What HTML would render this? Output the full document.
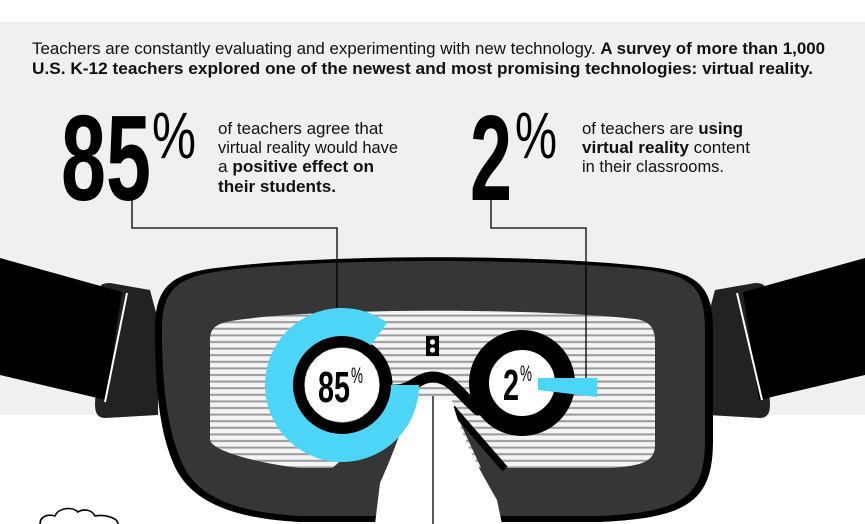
<!DOCTYPE html>
<html><head><meta charset="utf-8"><style>
html,body{margin:0;padding:0;background:#fff;}
svg{display:block;}
text{font-family:"Liberation Sans Narrow","Liberation Sans",sans-serif;}
</style></head><body>
<svg id="chart" width="865" height="524" viewBox="0 0 865 524">
<rect x="0" y="0" width="865" height="524" fill="#ffffff"/>
<rect x="0" y="22" width="865" height="393" fill="#f0f0f0"/>
<defs>
<pattern id="stripes" width="10" height="6.6" patternUnits="userSpaceOnUse">
<rect width="10" height="6.6" fill="#f4f4f4"/><rect y="4.4" width="10" height="2" fill="#9a9a9a"/>
</pattern>
</defs>

<g>
<text x="32" y="54" font-size="16.5" fill="#111" textLength="793" lengthAdjust="spacingAndGlyphs">Teachers are constantly evaluating and experimenting with new technology. <tspan font-weight="bold">A survey of more than 1,000</tspan></text>
<text x="32" y="74" font-size="16.5" font-weight="bold" fill="#111" textLength="781" lengthAdjust="spacingAndGlyphs">U.S. K-12 teachers explored one of the newest and most promising technologies: virtual reality.</text>
</g>

<g>
<text x="61" y="200" font-size="122" font-weight="bold" fill="#000" textLength="90" lengthAdjust="spacingAndGlyphs">85</text>
<text x="152" y="158" font-size="66" fill="#000" textLength="44" lengthAdjust="spacingAndGlyphs">%</text>
<g font-size="17" fill="#111">
<text x="218" y="134" textLength="165" lengthAdjust="spacingAndGlyphs">of teachers agree that</text>
<text x="218" y="153" textLength="180" lengthAdjust="spacingAndGlyphs">virtual reality would have</text>
<text x="218" y="172" textLength="156" lengthAdjust="spacingAndGlyphs">a <tspan font-weight="bold">positive effect on</tspan></text>
<text x="218" y="192" font-weight="bold" textLength="118" lengthAdjust="spacingAndGlyphs">their students.</text>
</g>
</g>

<g>
<text x="470" y="200" font-size="122" font-weight="bold" fill="#000" textLength="42" lengthAdjust="spacingAndGlyphs">2</text>
<text x="515" y="158" font-size="66" fill="#000" textLength="42" lengthAdjust="spacingAndGlyphs">%</text>
<g font-size="17" fill="#111">
<text x="582" y="134" textLength="161" lengthAdjust="spacingAndGlyphs">of teachers are <tspan font-weight="bold">using</tspan></text>
<text x="582" y="153" textLength="168" lengthAdjust="spacingAndGlyphs"><tspan font-weight="bold">virtual reality</tspan> content</text>
<text x="582" y="172" textLength="142" lengthAdjust="spacingAndGlyphs">in their classrooms.</text>
</g>
</g>

<g>
<path d="M100,288 Q100,283 110,283 L150,290 L158,320 L158,415 L105,418 Q95,418 95,405 Z" fill="#222"/>
<polygon points="0,258 122,292 106,400 0,375" fill="#000"/>
<line x1="127" y1="293" x2="105" y2="402" stroke="#fff" stroke-width="2"/>
</g>
<g>
<path d="M765,288 Q765,283 755,283 L715,290 L707,320 L707,415 L760,418 Q770,418 770,405 Z" fill="#222"/>
<polygon points="865,258 743,292 759,400 865,375" fill="#000"/>
<line x1="737" y1="293" x2="762" y2="400" stroke="#fff" stroke-width="2"/>
</g>

<path d="M155,330 C155,285 172,272 225,267 C330,254 540,254 650,267 C700,273 713,288 713,330 L713,440 C713,500 690,518 600,522 L300,522 C220,518 185,495 172,460 C160,430 155,390 155,330 Z" fill="#000"/>
<path d="M162,330 C162,288 178,276 228,270 C330,258 540,258 648,270 C694,276 705,290 705,330 L705,440 C705,496 684,512 600,516 L300,516 C226,512 192,492 180,458 C168,428 162,390 162,330 Z" fill="#363636"/>

<path d="M210,340 C210,326 218,322 245,319 C330,308 540,308 635,319 C650,321 655,328 655,342 L655,445 C655,460 645,466 610,468 L300,468 C250,462 212,450 210,440 Z" fill="url(#stripes)"/>

<path d="M411,400 L330,470 L402,470 Z" fill="#363636"/>
<path d="M452,405 L505,470 L482,470 Z" fill="#363636"/>
<path d="M452,408 L505,469" stroke="#000" stroke-width="7" fill="none"/>
<path d="M411,400 L452,400 C462,440 480,470 497,500 L502,524 L375,524 L380,483 C395,450 405,420 411,400 Z" fill="#ffffff"/>
<path d="M395,390 C412,390 418,377 433,377 C450,377 458,392 478,410" stroke="#000" stroke-width="11" fill="none" stroke-linecap="round"/>

<g>
<rect x="426" y="336" width="13" height="20" fill="#000"/>
<circle cx="432.5" cy="342" r="2.6" fill="#fff"/><circle cx="432.5" cy="350" r="2.6" fill="#fff"/>
</g>

<g stroke="#000" stroke-width="1.3" fill="none">
<polyline points="132,200 132,228 337,228 337,310"/>
<polyline points="491,200 491,228 586,228 586,383"/>
<line x1="433" y1="396" x2="433" y2="524"/>
</g>

<g id="marks"></g>

<path d="M40,524 C40,516 48,514 55,516 C58,508 72,506 78,512 C84,508 92,510 95,516 C105,514 118,518 118,524" stroke="#000" stroke-width="1.6" fill="#fff"/>
</svg>
<script>
const categories = ["positive-effect", "using-vr"];
const seriesValues = [85, 2];
const labels = ["85", "2"];

const NS = "http://www.w3.org/2000/svg";
const g = document.getElementById("marks");
function pctToAngle(p){ return p / 100 * 2 * Math.PI; }
function polar(cx, cy, r, a){ return [cx + r * Math.sin(a), cy - r * Math.cos(a)]; }
function mk(tag, attrs){ const e = document.createElementNS(NS, tag); for (const k in attrs) e.setAttribute(k, attrs[k]); return e; }

(function(){
  const cx = 342, cy = 385, ro = 77, ri = 49;
  const start = Math.PI / 2;
  const end = start + pctToAngle(seriesValues[0]);
  const large = (end - start) > Math.PI ? 1 : 0;
  const [x1,y1] = polar(cx,cy,ro,start), [x2,y2] = polar(cx,cy,ro,end);
  const [x3,y3] = polar(cx,cy,ri,end), [x4,y4] = polar(cx,cy,ri,start);
  const ring = mk("circle", {cx:cx, cy:cy, r:44, fill:"none", stroke:"#000", "stroke-width":13});
  
  
  g.appendChild(ring);
  const arc = mk("path", {d:`M${x1},${y1} A${ro},${ro} 0 ${large} 1 ${x2},${y2} L${x3},${y3} A${ri},${ri} 0 ${large} 0 ${x4},${y4} Z`, fill:"#4dd5f7"});
  
  
  g.appendChild(arc);
  const inner = mk("circle", {cx:cx, cy:cy, r:37, fill:"#fff"});
  
  
  g.appendChild(inner);
  const t = mk("text", {x:cx-24, y:cy+17, "font-size":44, "font-weight":"bold", fill:"#000", textLength:32, lengthAdjust:"spacingAndGlyphs"});
  t.textContent = labels[0];
  
  
  g.appendChild(t);
  const p = mk("text", {x:cx+9, y:cy-2, "font-size":22, fill:"#000", textLength:12, lengthAdjust:"spacingAndGlyphs"});
  p.textContent = "%";
  
  
  g.appendChild(p);
})();

(function(){
  const cx = 522, cy = 383;
  const ring = mk("circle", {cx:cx, cy:cy, r:43, fill:"#fff", stroke:"#000", "stroke-width":20});
  
  
  g.appendChild(ring);
  const len = seriesValues[1] * 29.5;
  const x0 = 538;
  const bar = mk("path", {d:`M${x0},${cy-5} L${x0+len},${cy-5} L${x0+len},${cy+14} L${x0},${cy+7} Z`, fill:"#4dd5f7"});
  
  
  g.appendChild(bar);
  const t = mk("text", {x:cx-19, y:cy+17, "font-size":44, "font-weight":"bold", fill:"#000", textLength:16, lengthAdjust:"spacingAndGlyphs"});
  t.textContent = labels[1];
  
  
  g.appendChild(t);
  const p = mk("text", {x:cx-2, y:cy-2, "font-size":22, fill:"#000", textLength:12, lengthAdjust:"spacingAndGlyphs"});
  p.textContent = "%";
  
  
  g.appendChild(p);
})();
</script>
</body></html>
